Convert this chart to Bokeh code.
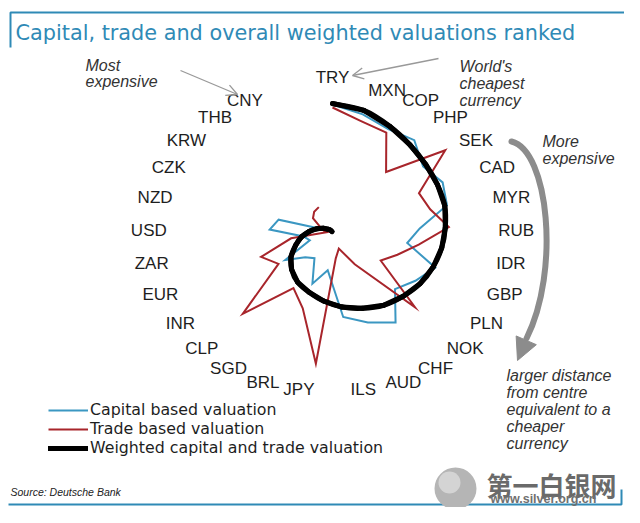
import math
from bokeh.plotting import figure
from bokeh.models import (Range1d, Legend, LegendItem, Arrow, OpenHead, NormalHead,
                          ColumnDataSource, Label)
from bokeh.core.properties import value
from bokeh.embed import file_html
from bokeh.resources import INLINE

# ---------------- data (ranked valuations, distance from centre) ----------------
currencies = ["TRY", "MXN", "COP", "PHP", "SEK", "CAD", "MYR", "RUB", "IDR", "GBP",
              "PLN", "NOK", "CHF", "AUD", "ILS", "JPY", "BRL", "SGD", "CLP", "INR",
              "EUR", "ZAR", "USD", "NZD", "CZK", "KRW", "THB", "CNY"]
capital = [128, 121, 114, 116, 102, 107, 102, 75, 65, 95,
           86, 78, 105, 95, 85, 38, 54, 30, 34, 49,
           21, 25, 54, 48, 5, 4, 3, 2]
trade = [125, 114, 110, 76, 127, 84, 87, 100, 75, 60,
         50, 103, 37, 17, 26, 132, 80, 65, 112, 56,
         66, 36, 5, 8, 12, 22, 26, 28]
weighted = [129, 125, 117, 110, 105, 102, 100, 97, 95, 93,
            91, 88, 85, 80, 75, 69, 63, 58, 51, 43,
            34, 27, 20, 14, 9, 5, 3, 1]
series_names = ["Capital based valuation", "Trade based valuation",
                "Weighted capital and trade valuation"]

# ---------------- layout ----------------
CX, CY = 332, 232          # centre of the radar
SX = 1.165                 # horizontal stretch of the picture
N_SLOTS = len(currencies) + 1
LBL_CY, LBL_RX, LBL_RY = 238, 166, 152

BLUE = "#3b97c2"
RED = "#a8252b"
TEAL = "#2f8ab6"
GREY = "#8c8c8c"
FONT = "Liberation Sans"

angles = [2 * math.pi * i / N_SLOTS for i in range(len(currencies))]


def to_xy(vals):
    xs = [CX + v * SX * math.sin(a) for v, a in zip(vals, angles)]
    ys = [CY - v * math.cos(a) for v, a in zip(vals, angles)]
    return xs, ys


p = figure(width=624, height=507, x_range=Range1d(0, 624), y_range=Range1d(507, 0),
           toolbar_location=None, output_backend="svg", x_axis_type=None,
           y_axis_type=None, min_border=0, outline_line_color=None)
p.grid.visible = False

# ---------------- series ----------------
bx, by = to_xy(capital)
r_blue = p.line(bx, by, line_color=BLUE, line_width=2, line_join="miter")
rx_, ry_ = to_xy(trade)
r_red = p.line(rx_, ry_, line_color=RED, line_width=2, line_join="miter")

wx, wy = to_xy(weighted)
r_black = p.line(wx, wy, line_color="black", line_width=5, line_join="round",
                 line_cap="round")
n = len(wx)
seg = dict(x0=[], y0=[], x1=[], y1=[], cx0=[], cy0=[], cx1=[], cy1=[])
for i in range(n - 1):
    i0, i3 = max(i - 1, 0), min(i + 2, n - 1)
    seg["x0"].append(wx[i]); seg["y0"].append(wy[i])
    seg["x1"].append(wx[i + 1]); seg["y1"].append(wy[i + 1])
    seg["cx0"].append(wx[i] + (wx[i + 1] - wx[i0]) / 6)
    seg["cy0"].append(wy[i] + (wy[i + 1] - wy[i0]) / 6)
    seg["cx1"].append(wx[i + 1] - (wx[i3] - wx[i]) / 6)
    seg["cy1"].append(wy[i + 1] - (wy[i3] - wy[i]) / 6)
p.bezier(x0="x0", y0="y0", x1="x1", y1="y1", cx0="cx0", cy0="cy0", cx1="cx1", cy1="cy1",
         source=ColumnDataSource(seg), line_color="black", line_width=5, line_cap="round")

# ---------------- currency labels ----------------
lx, ly, la, lb = [], [], [], []
for a in angles:
    s, c = math.sin(a), math.cos(a)
    lx.append(CX + LBL_RX * s)
    ly.append(LBL_CY - LBL_RY * c)
    la.append("left" if s > 0.05 else ("right" if s < -0.05 else "center"))
    lb.append("bottom" if abs(s) <= 0.05 else "middle")
p.text(x="x", y="y", text="t", text_align="a", text_baseline="b",
       source=ColumnDataSource(dict(x=lx, y=ly, t=currencies, a=la, b=lb)),
       text_font=value(FONT), text_font_size="17px", text_color="#1e1e1e")

# ---------------- legend ----------------
legend = Legend(items=[LegendItem(label=series_names[0], renderers=[r_blue]),
                       LegendItem(label=series_names[1], renderers=[r_red]),
                       LegendItem(label=series_names[2], renderers=[r_black])],
                location=(48, 50), orientation="vertical", padding=0, margin=0,
                spacing=0, glyph_width=40, glyph_height=18, label_height=18,
                label_standoff=2, border_line_alpha=0, background_fill_alpha=0,
                label_text_font="DejaVu Sans", label_text_font_size="15.8px",
                label_text_color="#1e1e1e")
p.add_layout(legend, "center")

# ---------------- title & frame lines ----------------
p.add_layout(Label(x=15, y=32, text="Capital, trade and overall weighted valuations ranked",
                   text_font="DejaVu Sans", text_font_size="20.8px", text_color=TEAL,
                   text_baseline="middle"))
p.line([10, 10, 624], [47, 12, 12], line_color=TEAL, line_width=2)
p.line([8, 621, 621], [504, 504, 489], line_color=TEAL, line_width=2)

# ---------------- annotations ----------------
notes_x = [85, 85, 459, 459, 459, 542, 542, 506, 506, 506, 506, 506]
notes_y = [65, 81, 66, 83, 100, 141, 158, 375, 392, 409, 426, 443]
notes_t = ["Most", "expensive", "World's", "cheapest", "currency", "More", "expensive",
           "larger distance", "from centre", "equivalent to a", "cheaper", "currency"]
p.text(x=notes_x, y=notes_y, text=notes_t, text_font=value(FONT), text_font_style="italic",
       text_font_size="16px", text_color="#333333", text_baseline="middle")
p.text(x=[10], y=[491], text=["Source: Deutsche Bank"], text_font=value(FONT),
       text_font_style="italic", text_font_size="10.5px", text_color="#222222",
       text_baseline="middle")

p.add_layout(Arrow(end=OpenHead(size=11, line_color="#999999", line_width=1.3),
                   x_start=180, y_start=70, x_end=237, y_end=94,
                   line_color="#999999", line_width=1.3))
p.add_layout(Arrow(end=OpenHead(size=11, line_color="#999999", line_width=1.3),
                   x_start=438, y_start=58, x_end=352, y_end=75,
                   line_color="#999999", line_width=1.3))

# big curved arrow
p.bezier(x0=[511], y0=[141], x1=[526], y1=[338], cx0=[548], cy0=[150],
         cx1=[560], cy1=[270], line_color=GREY, line_width=6, line_cap="round")
p.add_layout(Arrow(end=NormalHead(size=22, fill_color=GREY, line_color=GREY),
                   x_start=530, y_start=330, x_end=517, y_end=360,
                   line_color=GREY, line_width=1))

# ---------------- watermark ----------------
p.scatter([455], [488], size=42, fill_color="#b5b5b5", line_color=None)
p.scatter([449], [482], size=22, fill_color="#dcdcdc", line_color=None, fill_alpha=0.8)
p.text(x=[486], y=[484], text=["第一白银网"], text_font=value("Noto Sans CJK SC"),
       text_font_style="bold", text_font_size="26px", text_color="#6a6a6a",
       text_baseline="middle")
p.text(x=[490], y=[498], text=["www.silver.org.cn"], text_font=value(FONT),
       text_font_style="bold", text_font_size="12.5px", text_color="#707070",
       text_baseline="middle")

open("out.html", "w").write(file_html(p, INLINE))
